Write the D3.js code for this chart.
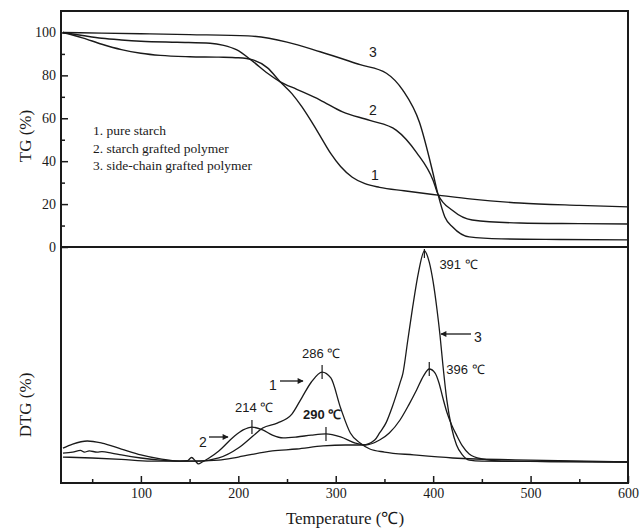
<!DOCTYPE html>
<html><head><meta charset="utf-8">
<script src="https://cdn.jsdelivr.net/npm/d3@7/dist/d3.min.js"></script>
<style>html,body{margin:0;padding:0;background:#fff;}svg{display:block;}</style>
</head><body>
<svg id="chart" width="641" height="530"></svg>
<script>
// ---------- DATA ----------
const legendLabels = ["1. pure starch", "2. starch grafted polymer", "3. side-chain grafted polymer"];
const curveIds = ["1", "2", "3"];
const xTicks = [100, 200, 300, 400, 500, 600];
const xMinorTicks = [50, 150, 250, 350, 450, 550];
const tgTicks = [0, 20, 40, 60, 80, 100];
const tgMinorTicks = [10, 30, 50, 70, 90];

// TG curves (temperature, weight %)
const tg1T = [20, 40, 60, 80, 100, 120, 150, 180, 200, 215, 230, 243, 255, 265, 275, 285, 295, 305, 317, 330, 345, 370, 405, 440, 489, 550, 600];
const tg1V = [100, 97.5, 94.5, 92, 90.3, 89.3, 88.7, 88.5, 88.2, 87.2, 83.5, 77, 71.5, 65.5, 58.5, 51, 43.5, 37.5, 32.5, 29.5, 27.8, 26.2, 24.2, 22.3, 20.5, 19.4, 18.7];
const tg2T = [20, 40, 60, 80, 100, 137, 171, 185, 198, 215, 230, 243, 260, 284, 307, 335, 362, 383, 400, 405, 420, 440, 489, 550, 600];
const tg2V = [100, 98.6, 97.3, 96.5, 95.9, 95.4, 95, 94, 92, 86.5, 81, 77, 73.5, 68.5, 63, 59, 54.5, 44, 31, 24.5, 17, 12.6, 11.2, 10.9, 10.7];
const tg3T = [20, 60, 100, 150, 210, 250, 284, 325, 352, 369, 386, 399, 405, 412, 420, 437, 470, 530, 600];
const tg3V = [100, 99.7, 99.4, 99, 98.4, 95.5, 91, 85, 81, 73, 58, 36, 24.5, 14, 9.3, 4.7, 3.8, 3.5, 3.3];

// DTG curves (temperature, relative rate, arbitrary units)
const dtg1T = [20, 30, 45, 60, 80, 100, 120, 140, 160, 180, 200, 215, 225, 240, 255, 265, 275, 286, 295, 305, 315, 325, 335, 350, 380, 420, 500, 600];
const dtg1V = [14.8, 16.5, 17.8, 16.9, 14.4, 11.9, 10.2, 9.3, 9.3, 10.6, 14.8, 19.9, 23.3, 25.4, 29.2, 36.0, 42.8, 47.0, 44.5, 31.8, 21.2, 16.9, 14.4, 13.1, 11.9, 10.6, 9.7, 8.9];
const dtg2T = [20, 30, 38, 42, 47, 55, 60, 70, 80, 100, 120, 140, 148, 152, 156, 159, 163, 170, 180, 195, 205, 214, 225, 235, 246, 260, 275, 290, 305, 320, 330, 345, 355, 366, 375, 383, 390, 396, 402, 406, 410, 414, 419, 424, 430, 437, 450, 470, 520, 600];
const dtg2V = [12.7, 13.1, 13.8, 13.1, 13.6, 13.1, 13.3, 12.7, 11.9, 10.6, 9.7, 9.3, 9.5, 10.8, 9.3, 8.1, 8.9, 10.6, 13.6, 19.5, 22.5, 23.7, 22.5, 20.3, 19.1, 19.5, 20.3, 20.8, 19.5, 16.9, 16.1, 18.2, 21.2, 26.7, 33.1, 39.4, 45.3, 48.3, 46.6, 42.4, 36.0, 30.1, 24.6, 20.3, 15.7, 12.3, 10.2, 9.3, 9.1, 8.9];
const dtg3T = [20, 50, 80, 110, 150, 180, 200, 235, 260, 287, 310, 328, 340, 345, 352, 358, 366, 369, 374, 379, 385, 391, 396, 400, 404, 407, 410, 414, 419, 424, 430, 437, 450, 520, 600];
const dtg3V = [11.0, 10.6, 10.0, 9.3, 9.3, 9.7, 11.0, 13.6, 14.4, 15.7, 16.1, 16.1, 18.2, 21.2, 25.8, 32.2, 42.4, 46.6, 60.6, 74.6, 89.4, 98.3, 93.6, 85.2, 73.3, 62.7, 50.0, 35.2, 23.3, 16.1, 11.9, 9.7, 9.3, 9.1, 8.9];

// Peak annotations
const peakTemps = [391, 396, 286, 214, 290];
const peakCurve = [3, 2, 1, 2, 2];
const peakLabels = ["391 ℃", "396 ℃", "286  ℃", "214 ℃", "290 ℃"];

// ---------- LAYOUT ----------
const L = 61, R = 628, T = 11, MID = 247, B = 483;
const svg = d3.select("#chart");

const x = d3.scaleLinear().domain([18, 600]).range([L, R]);
const yTG = d3.scaleLinear().domain([0, 110]).range([MID, T]);
const yDTG = d3.scaleLinear().domain([0, 100]).range([B, MID]);

const serif = "'Liberation Serif','Times New Roman',serif";
const sans = "'Liberation Sans',Arial,sans-serif";

function zip(ts, vs) { return ts.map((t, i) => [t, vs[i]]); }
const lineTG = d3.line().x(d => x(d[0])).y(d => yTG(d[1])).curve(d3.curveMonotoneX);
const lineDTG = d3.line().x(d => x(d[0])).y(d => yDTG(d[1])).curve(d3.curveMonotoneX);

const tgData = [zip(tg1T, tg1V), zip(tg2T, tg2V), zip(tg3T, tg3V)];
const dtgData = [zip(dtg1T, dtg1V), zip(dtg2T, dtg2V), zip(dtg3T, dtg3V)];

svg.append("g").selectAll("path").data(tgData).join("path")
  .attr("d", lineTG).attr("fill", "none").attr("stroke", "#1a1a1a").attr("stroke-width", 1.4);
svg.append("g").selectAll("path").data(dtgData).join("path")
  .attr("d", lineDTG).attr("fill", "none").attr("stroke", "#1a1a1a").attr("stroke-width", 1.3);

// Axes
svg.append("g").attr("transform", `translate(${L},0)`)
  .call(d3.axisLeft(yTG).tickValues(tgTicks).tickSize(-7).tickPadding(5).tickFormat(d3.format("d")));
svg.append("g").attr("transform", `translate(${L},0)`)
  .call(d3.axisLeft(yTG).tickValues(tgMinorTicks).tickSize(-4).tickFormat(""));
svg.append("g").attr("transform", `translate(0,${B})`)
  .call(d3.axisBottom(x).tickValues(xTicks).tickSize(-7).tickPadding(5).tickFormat(d3.format("d")));
svg.append("g").attr("transform", `translate(0,${B})`)
  .call(d3.axisBottom(x).tickValues(xMinorTicks).tickSize(-4).tickFormat(""));
svg.selectAll(".domain").remove();
svg.selectAll(".tick line").attr("stroke", "#1a1a1a").attr("stroke-width", 1.5);
svg.selectAll(".tick text").attr("font-family", serif).attr("font-size", 14).attr("fill", "#1a1a1a");

// Frame
svg.append("rect").attr("x", L).attr("y", T).attr("width", R - L).attr("height", B - T)
  .attr("fill", "none").attr("stroke", "#1a1a1a").attr("stroke-width", 2);
svg.append("line").attr("x1", L).attr("x2", R).attr("y1", MID).attr("y2", MID)
  .attr("stroke", "#1a1a1a").attr("stroke-width", 2);

// Axis titles
svg.append("text").attr("transform", "translate(31,136) rotate(-90)").attr("text-anchor", "middle")
  .attr("font-family", serif).attr("font-size", 17).attr("fill", "#1a1a1a").text("TG (%)");
svg.append("text").attr("transform", "translate(31,405) rotate(-90)").attr("text-anchor", "middle")
  .attr("font-family", serif).attr("font-size", 17).attr("fill", "#1a1a1a").text("DTG (%)");
svg.append("text").attr("x", 345).attr("y", 524).attr("text-anchor", "middle")
  .attr("font-family", serif).attr("font-size", 17).attr("fill", "#1a1a1a").text("Temperature (℃)");

// Legend
svg.append("g").selectAll("text").data(legendLabels).join("text")
  .attr("x", 93).attr("y", (d, i) => 135 + i * 17.5)
  .attr("font-family", serif).attr("font-size", 13.5).attr("fill", "#1a1a1a").text(d => d);

// TG curve numbers
const tgNumPos = [[375, 180], [373, 115], [373, 57]];
svg.append("g").selectAll("text").data(curveIds).join("text")
  .attr("x", (d, i) => tgNumPos[i][0]).attr("y", (d, i) => tgNumPos[i][1])
  .attr("text-anchor", "middle").attr("font-family", sans).attr("font-size", 14).attr("fill", "#1a1a1a").text(d => d);

// Peak ticks and labels
function dtgAt(c, t) {
  const ts = [dtg1T, dtg2T, dtg3T][c - 1], vs = [dtg1V, dtg2V, dtg3V][c - 1];
  const i = ts.indexOf(t);
  if (i >= 0) return vs[i];
  const j = d3.bisectLeft(ts, t);
  const f = (t - ts[j - 1]) / (ts[j] - ts[j - 1]);
  return vs[j - 1] + f * (vs[j] - vs[j - 1]);
}
const labelOff = [[15, 18], [17, 5], [-20, -14], [-17, -15], [-23, -15]];
peakTemps.forEach((t, i) => {
  const px = x(t), py = yDTG(dtgAt(peakCurve[i], t));
  svg.append("line").attr("x1", px).attr("x2", px)
    .attr("y1", Math.max(py - 7, MID + 2)).attr("y2", py + 7)
    .attr("stroke", "#1a1a1a").attr("stroke-width", 1.2);
  svg.append("text").attr("x", px + labelOff[i][0]).attr("y", py + labelOff[i][1])
    .attr("font-family", sans).attr("font-size", 13)
    .attr("font-weight", i === 4 ? "bold" : "normal")
    .attr("fill", "#1a1a1a").text(peakLabels[i]);
});

// Arrows to DTG curves
svg.append("defs").append("marker").attr("id", "ah").attr("viewBox", "0 0 10 10")
  .attr("refX", 9).attr("refY", 5).attr("markerWidth", 8).attr("markerHeight", 6)
  .attr("markerUnits", "userSpaceOnUse").attr("orient", "auto")
  .append("path").attr("d", "M0,0 L10,5 L0,10 Z").attr("fill", "#1a1a1a");
const arrows = [
  {id: "1", x1: 280, x2: 303, y: 381, tx: 273, ty: 390},
  {id: "2", x1: 209, x2: 228, y: 437, tx: 203, ty: 447},
  {id: "3", x1: 471, x2: 441, y: 334, tx: 478, ty: 342}
];
arrows.forEach(a => {
  svg.append("line").attr("x1", a.x1).attr("x2", a.x2).attr("y1", a.y).attr("y2", a.y)
    .attr("stroke", "#1a1a1a").attr("stroke-width", 1.3).attr("marker-end", "url(#ah)");
  svg.append("text").attr("x", a.tx).attr("y", a.ty).attr("text-anchor", "middle")
    .attr("font-family", sans).attr("font-size", 14).attr("fill", "#1a1a1a").text(a.id);
});
</script>
</body></html>
